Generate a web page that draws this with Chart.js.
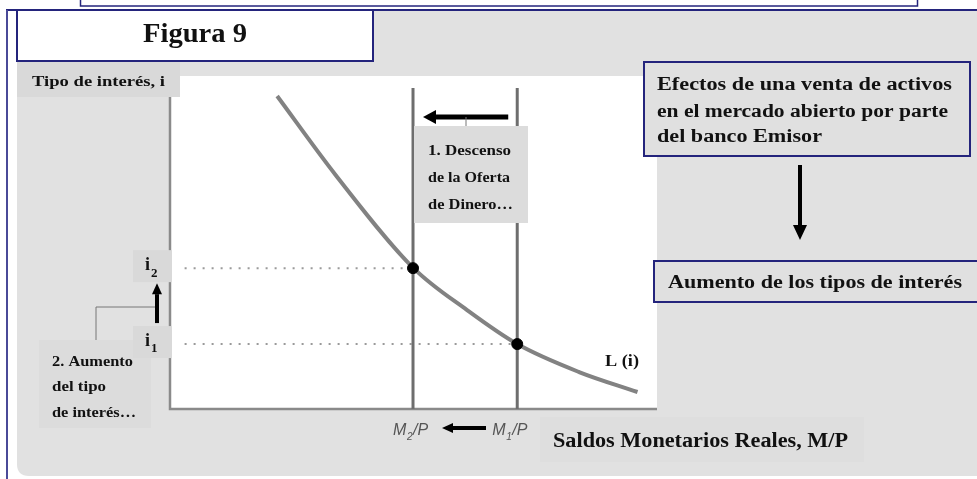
<!DOCTYPE html>
<html>
<head>
<meta charset="utf-8">
<script src="https://cdn.jsdelivr.net/npm/chart.js@4.4.1/dist/chart.umd.min.js"></script>
<style>
  html, body { margin: 0; padding: 0; background: #fff; }
  canvas { display: block; }
</style>
</head>
<body>
<canvas id="fig9" width="977" height="479"></canvas>
<script>
// money demand curve L(i) (x = M/P, y = i, both 0..100)
const curveX = [22, 34, 50, 61, 71.3, 84, 96];
const curveY = [94, 70.3, 42.3, 29.7, 19.5, 11.1, 5.1];

// money supply before / after the sale (M2 < M1) and the matching rates
const supplyX = [49.9, 71.3];
const supplyLabels = ["2", "1"];           // subscripts of M/P
const rateY = [42.3, 19.5];
const rateLabels = ["2", "1"];             // subscripts of i
const supplyTop = 96.4;
const dotStartX = 3;

const SERIF = '"Liberation Serif", "Times New Roman", serif';
const NAVY = "#24247c";

function text(ctx, str, x, y, size, width, opts) {
	opts = opts || {};
	ctx.save();
	ctx.font = (opts.style || "bold") + " " + size + "px " + (opts.family || SERIF);
	ctx.fillStyle = opts.color || "#111";
	ctx.textBaseline = "middle";
	ctx.translate(x, y);
	if (width) ctx.scale(width / ctx.measureText(str).width, 1);
	ctx.fillText(str, 0, 0);
	ctx.restore();
}

function rect(ctx, x, y, w, h, fill, stroke) {
	ctx.fillStyle = fill;
	ctx.fillRect(x, y, w, h);
	if (stroke) {
		ctx.strokeStyle = stroke;
		ctx.lineWidth = 2;
		ctx.strokeRect(x, y, w, h);
	}
}

function arrow(ctx, x1, y1, x2, y2, lw, head, half) {
	const ang = Math.atan2(y2 - y1, x2 - x1);
	const bx = x2 - Math.cos(ang) * head, by = y2 - Math.sin(ang) * head;
	ctx.strokeStyle = "#000";
	ctx.lineWidth = lw;
	ctx.beginPath();
	ctx.moveTo(x1, y1);
	ctx.lineTo(bx, by);
	ctx.stroke();
	ctx.fillStyle = "#000";
	ctx.beginPath();
	ctx.moveTo(x2, y2);
	ctx.lineTo(bx + Math.sin(ang) * half, by - Math.cos(ang) * half);
	ctx.lineTo(bx - Math.sin(ang) * half, by + Math.cos(ang) * half);
	ctx.closePath();
	ctx.fill();
}

function line(ctx, pts, color, lw) {
	ctx.strokeStyle = color;
	ctx.lineWidth = lw;
	ctx.beginPath();
	pts.forEach((p, i) => (i ? ctx.lineTo(p[0], p[1]) : ctx.moveTo(p[0], p[1])));
	ctx.stroke();
}

const backdrop = {
	id: "backdrop",
	beforeDraw(chart) {
		const ctx = chart.ctx, a = chart.chartArea;
		ctx.save();
		ctx.fillStyle = "#fff";
		ctx.fillRect(0, 0, chart.width, chart.height);
		// cut-off caption box at the very top
		ctx.strokeStyle = NAVY;
		ctx.lineWidth = 1.5;
		ctx.strokeRect(80.5, -4, 837, 10);
		// grey panel
		ctx.fillStyle = "#e1e1e1";
		ctx.beginPath();
		ctx.moveTo(17, 11);
		ctx.lineTo(977, 11);
		ctx.lineTo(977, 476);
		ctx.lineTo(29, 476);
		ctx.quadraticCurveTo(17, 476, 17, 464);
		ctx.closePath();
		ctx.fill();
		line(ctx, [[6, 10], [977, 10]], NAVY, 2);
		line(ctx, [[7, 10], [7, 479]], "#4a4a98", 2);
		// white plot area and axes
		ctx.fillStyle = "#fff";
		ctx.fillRect(a.left, a.top, a.right - a.left, a.bottom - a.top);
		line(ctx, [[a.left, a.top], [a.left, a.bottom], [a.right, a.bottom]], "#8a8a8a", 2.5);
		ctx.restore();
	},
	afterDatasetsDraw(chart) {
		const ctx = chart.ctx;
		const xs = chart.scales.x, ys = chart.scales.y;
		const m2 = xs.getPixelForValue(supplyX[0]), m1 = xs.getPixelForValue(supplyX[1]);
		ctx.save();

		// title boxes
		rect(ctx, 17, 10, 356, 51, "#fff", NAVY);
		text(ctx, "Figura 9", 143, 35, 28, 104);
		rect(ctx, 17, 62, 163, 35, "#d9d9d9");
		text(ctx, "Tipo de interés, i", 32, 82, 15, 133);

		// 1. shift of the supply
		arrow(ctx, m1 - 9, 117, m2 + 10, 117, 5, 13, 7);
		line(ctx, [[466, 117], [466, 126]], "#777", 1);
		rect(ctx, m2 + 1, 126, 114, 97, "#dcdcdc");
		text(ctx, "1. Descenso", 428, 151, 15, 83);
		text(ctx, "de la Oferta", 428, 178, 15, 82);
		text(ctx, "de Dinero…", 428, 205, 15, 85);

		// 2. rise of the interest rate
		const i1 = ys.getPixelForValue(rateY[1]), i2 = ys.getPixelForValue(rateY[0]);
		line(ctx, [[157, 307], [96, 307], [96, 340]], "#777", 1);
		rect(ctx, 39, 340, 112, 88, "#dcdcdc");
		text(ctx, "2. Aumento", 52, 362, 15, 81);
		text(ctx, "del tipo", 52, 387, 15, 54);
		text(ctx, "de interés…", 52, 413, 15, 84);

		// i labels on the vertical axis
		rateY.forEach((v, i) => {
			const py = ys.getPixelForValue(v);
			rect(ctx, 133, py - 18, 39, 32, "#d9d9d9");
			text(ctx, "i", 145, py - 3, 18);
			text(ctx, rateLabels[i], 151, py + 5, 13);
		});
		arrow(ctx, 157, i1 - 21, 157, i2 + 15, 4, 11, 5);

		// curve label
		rect(ctx, 594, 345, 62, 30, "#fff");
		text(ctx, "L (i)", 605, 362, 16, 34);

		// M/P labels under the axis
		supplyX.forEach((v, i) => {
			const px = xs.getPixelForValue(v) - (i ? 25 : 20);
			const f = { style: "italic", family: '"Liberation Sans", Arial, sans-serif', color: "#555" };
			text(ctx, "M", px, 431, 16, 0, f);
			text(ctx, supplyLabels[i], px + 14, 437, 10, 0, f);
			text(ctx, "/P", px + 20, 431, 16, 0, f);
		});
		arrow(ctx, 486, 428, 442, 428, 4, 11, 5);
		rect(ctx, 540, 417, 324, 45, "#dedede");
		text(ctx, "Saldos Monetarios Reales, M/P", 553, 442, 20, 295);

		// right-hand explanation
		rect(ctx, 644, 62, 326, 94, "#e0e0e0", NAVY);
		text(ctx, "Efectos de una venta de activos", 657, 85, 18, 295);
		text(ctx, "en el mercado abierto por parte", 657, 112, 18, 291);
		text(ctx, "del banco Emisor", 657, 137, 18, 165);
		arrow(ctx, 800, 165, 800, 240, 4, 15, 7);
		rect(ctx, 654, 261, 330, 41, "#e0e0e0", NAVY);
		text(ctx, "Aumento de los tipos de interés", 668, 283, 18, 294);
		ctx.restore();
	}
};

const pts = (xsArr, ysArr) => xsArr.map((x, i) => ({ x, y: ysArr[i] }));

new Chart(document.getElementById("fig9"), {
	type: "scatter",
	data: {
		datasets: [
			{
				label: "equilibrio",
				data: pts(supplyX, rateY),
				order: 0,
				pointRadius: 5.5,
				pointBackgroundColor: "#000",
				pointBorderColor: "#000",
			},
			{
				label: "L (i)",
				data: pts(curveX, curveY),
				order: 1,
				showLine: true,
				cubicInterpolationMode: "monotone",
				borderColor: "#828282",
				borderWidth: 4,
				pointRadius: 0,
			},
			...supplyX.map((x) => ({
				label: "oferta",
				data: [{ x, y: 0 }, { x, y: supplyTop }],
				order: 2,
				showLine: true,
				borderColor: "#6e6e6e",
				borderWidth: 3,
				pointRadius: 0,
			})),
			...rateY.map((y, i) => ({
				label: "i",
				data: [{ x: dotStartX, y }, { x: supplyX[i], y }],
				order: 3,
				showLine: true,
				borderColor: "#9a9a9a",
				borderWidth: 2,
				borderDash: [2, 7],
				pointRadius: 0,
			})),
		],
	},
	options: {
		responsive: false,
		animation: false,
		layout: { padding: { left: 170, right: 320, top: 76, bottom: 70 } },
		plugins: { legend: { display: false }, tooltip: { enabled: false } },
		scales: {
			x: { type: "linear", min: 0, max: 100, display: false },
			y: { type: "linear", min: 0, max: 100, display: false },
		},
	},
	plugins: [backdrop],
});
</script>
</body>
</html>
